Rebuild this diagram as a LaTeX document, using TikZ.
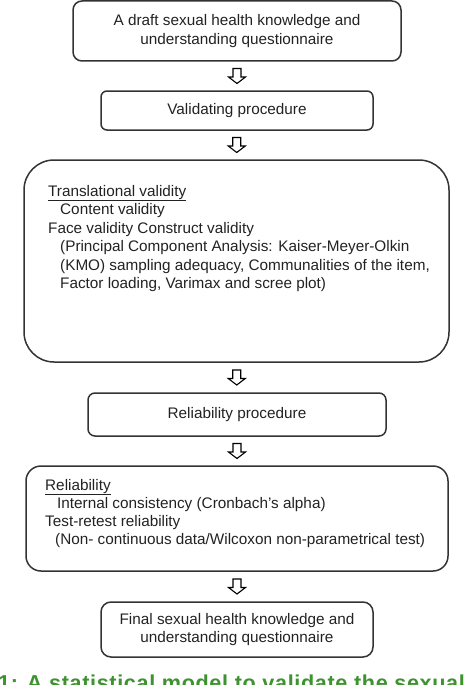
\documentclass[tikz,border=0pt]{standalone}
\usepackage{fontspec}
\setmainfont{Liberation Sans}
\newfontfamily\capfont[LetterSpace=3.0]{Liberation Sans}
\usetikzlibrary{calc}
\definecolor{edge}{HTML}{333333}
\definecolor{ink}{HTML}{222222}
\definecolor{capgreen}{RGB}{62,146,48}
\tikzset{
  box/.style={draw=edge, line width=1.5pt, inner sep=0pt, align=center, text=ink,
    font=\fontsize{15.3}{18.3}\selectfont},
  txt/.style={anchor=base west, inner sep=0pt, text=ink, font=\fontsize{15.3}{18.3}\selectfont},
  harrow/.style={draw=black, line width=1.1pt, fill=white, line join=miter},
}
\newcommand\arrowbetween[3]{%
  \coordinate (#1) at ($(#2.south)!0.5!(#3.north)$);
  \draw[harrow] ($(#1)+(-4,-7.5)$) -- ($(#1)+(4,-7.5)$) -- ($(#1)+(4,1)$) -- ($(#1)+(8.5,1)$)
    -- ($(#1)+(0,7.5)$) -- ($(#1)+(-8.5,1)$) -- ($(#1)+(-4,1)$) -- cycle;
}
\begin{document}
\begin{tikzpicture}[x=1pt,y=-1pt]
\useasboundingbox (0,0) rectangle (474,685);
\node[box, rounded corners=9pt, minimum width=328pt, minimum height=60pt] (b1) at (237,31)
  {A draft sexual health knowledge and\\understanding questionnaire};
\node[box, rounded corners=6pt, minimum width=272pt, minimum height=39pt] (b2) at (237,110.5)
  {Validating procedure};
\node[box, rounded corners=30pt, minimum width=425pt, minimum height=202pt] (b3) at (236.5,261) {};
\node[txt] (t31) at (48,196) {\underline{Translational validity}};
\node[txt] (t32) at (60,214.5) {Content validity};
\node[txt] (t33) at (48,233) {Face validity Construct validity};
\node[txt] (t34) at (60,251.5) {(Principal Component Analysis: Kaiser-Meyer-Olkin};
\node[txt] (t35) at (60,270) {(KMO) sampling adequacy, Communalities of the item,};
\node[txt] (t36) at (60,288.5) {Factor loading, Varimax and scree plot)};
\node[box, rounded corners=7pt, minimum width=298pt, minimum height=43pt] (b4) at (237,414.5)
  {Reliability procedure};
\node[box, rounded corners=15pt, minimum width=422pt, minimum height=105pt] (b5) at (237,518.5) {};
\node[txt] (t51) at (45,490) {\underline{Reliability}};
\node[txt] (t52) at (57,508) {Internal consistency (Cronbach’s alpha)};
\node[txt] (t53) at (45,526) {Test-retest reliability};
\node[txt] (t54) at (55,544) {(Non- continuous data/Wilcoxon non-parametrical test)};
\node[box, rounded corners=10pt, minimum width=272pt, minimum height=55pt] (b6) at (237,629.5)
  {Final sexual health knowledge and\\understanding questionnaire};
\arrowbetween{a1}{b1}{b2}
\arrowbetween{a2}{b2}{b3}
\arrowbetween{a3}{b3}{b4}
\arrowbetween{a4}{b4}{b5}
\arrowbetween{a5}{b5}{b6}
\node[anchor=base west, inner sep=0pt, text=capgreen, font=\capfont\bfseries\fontsize{21.6}{26}\selectfont] (cap) at (-2,690)
  {1: A statistical model to validate the sexual};
\end{tikzpicture}
\end{document}
